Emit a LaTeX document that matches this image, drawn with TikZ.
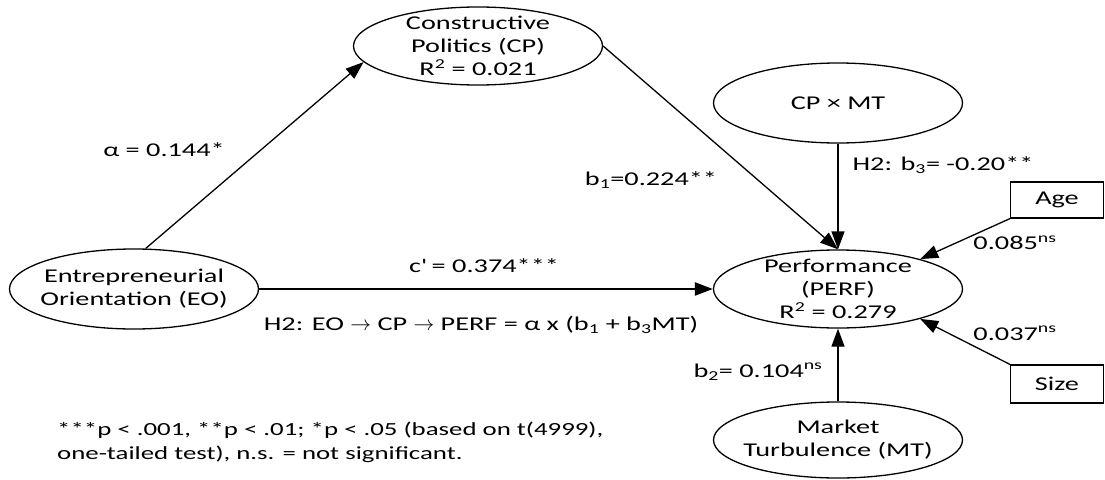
\documentclass[tikz,border=0pt]{standalone}
\usepackage{fontspec}
\setmainfont{Carlito}[FakeStretch=1.45]
\usetikzlibrary{positioning, arrows.meta, shapes.geometric}
\newcommand{\pathfont}{\fontsize{19.5pt}{23pt}\selectfont}
\newcommand{\notefont}{\fontsize{18.5pt}{24pt}\selectfont}

\begin{document}
\begin{tikzpicture}[x=1pt, y=-1pt,
                latent/.style={draw, ellipse, line width=1.3pt, inner sep=0pt,
                    minimum width=249pt, minimum height=78pt},
                ctrl/.style={draw, rectangle, line width=1.3pt, inner sep=0pt,
                    minimum width=93pt, minimum height=36pt, font=\pathfont},
                vtxt/.style={font=\pathfont, align=center, inner sep=0pt},
                path/.style={line width=1.3pt, -{Triangle[length=18pt, width=13pt]}},
                coef/.style={font=\pathfont, inner sep=1pt}
            ]
            \useasboundingbox (0,0) rectangle (1105,479);

            % Constructs
            \node[latent] (cp) at (478,46) {};
            \node[vtxt] (cp-txt) at (cp) {Constructive\\Politics (CP)\\R\textsuperscript{2} = 0.021};
            \node[latent, minimum height=80pt] (eo) at (134,289) {};
            \node[vtxt] (eo-txt) at (eo) {Entrepreneurial\\Orientation (EO)};
            \node[latent, minimum height=80pt] (cpmt) at (838,103) {};
            \node[vtxt] (cpmt-txt) at (cpmt) {CP × MT};
            \node[latent] (perf) at (838,289) {};
            \node[vtxt] (perf-txt) at (perf) {Performance\\(PERF)\\R\textsuperscript{2} = 0.279};
            \node[latent, minimum height=76pt] (mt) at (838,440) {};
            \node[vtxt] (mt-txt) at (mt) {Market\\Turbulence (MT)};

            % Controls
            \node[ctrl] (age) at (1057,200) {Age};
            \node[ctrl, minimum height=38pt] (size) at (1057,384) {Size};

            % Paths
            \draw[path] (eo.74) -- (cp.188);
            \draw[path] (cp.east) -- (perf.north);
            \draw[path] (cpmt.south) -- (perf.north);
            \draw[path, line width=2.2pt] (eo.east) -- (perf.west);
            \draw[path] (age.south west) -- (perf.20);
            \draw[path] (size.north west) -- (perf.-20);
            \draw[path] (mt.north) -- (perf.south);

            % Coefficients
            \node[coef] (a-lbl) at (164,150) {α = 0.144*};
            \node[coef] (b1-lbl) at (651,180) {b\textsubscript{1}=0.224**};
            \node[coef] (b3-lbl) at (943,165) {H2: b\textsubscript{3}= -0.20**};
            \node[coef] (c-lbl) at (484,266) {c\textquotesingle{} = 0.374***};
            \node[coef] (h2-lbl) at (481,325)
                {H2: EO $\rightarrow$ CP $\rightarrow$ PERF = α x (b\textsubscript{1} + b\textsubscript{3}MT)};
            \node[coef] (b2-lbl) at (758,372) {b\textsubscript{2}= 0.104\textsuperscript{ns}};
            \node[coef] (age-lbl) at (1015,243) {0.085\textsuperscript{ns}};
            \node[coef] (size-lbl) at (1015,333) {0.037\textsuperscript{ns}};

            % Significance note
            \node[coef, font=\notefont, align=left, anchor=west] (note) at (56,442)
                {***p < .001, **p < .01; *p < .05 (based on t(4999),\\
                 one-tailed test), n.s. = not significant.};

            \end{tikzpicture}
\end{document}
